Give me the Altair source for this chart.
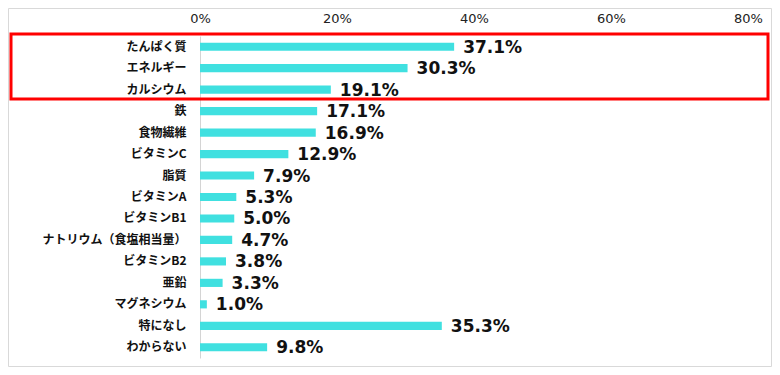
import altair as alt
import pandas as pd

categories = ["たんぱく質", "エネルギー", "カルシウム", "鉄", "食物繊維", "ビタミンC", "脂質",
              "ビタミンA", "ビタミンB1", "ナトリウム（食塩相当量）", "ビタミンB2", "亜鉛",
              "マグネシウム", "特になし", "わからない"]
values = [37.1, 30.3, 19.1, 17.1, 16.9, 12.9, 7.9, 5.3, 5.0, 4.7, 3.8, 3.3, 1.0, 35.3, 9.8]
x_ticks = [0, 20, 40, 60, 80]

df = pd.DataFrame({"cat": categories, "val": values,
                   "label": [f"{v:.1f}%" for v in values]})

W, H = 548, 322
font = "Noto Sans CJK JP"

x = alt.X("val:Q", scale=alt.Scale(domain=[0, 80], nice=False),
          axis=alt.Axis(orient="top", values=x_ticks, labelExpr="datum.value + '%'",
                        grid=False, domain=False, ticks=False, labelPadding=11,
                        labelFlush=False, labelOverlap=False,
                        labelFontSize=13, labelColor="#222222", labelFont="DejaVu Sans",
                        title=None))
y = alt.Y("cat:N", sort=categories, scale=alt.Scale(paddingInner=0.62, paddingOuter=0.31),
          axis=alt.Axis(title=None, ticks=False, domain=True, domainColor="#d4d4d4",
                        domainWidth=1, labelPadding=14, labelFontSize=12,
                        labelFontWeight="bold", labelColor="#111111", labelFont=font))

base = alt.Chart(df)

bars = base.mark_bar(color="#40E0E0").encode(x=x, y=y)

text = base.mark_text(align="left", baseline="middle", dx=9, dy=1, fontSize=17,
                      fontWeight="bold", font="DejaVu Sans", color="#111111").encode(
    x="val:Q", y=alt.Y("cat:N", sort=categories), text="label:N")

frame_df = pd.DataFrame({"k": [0]})
red = alt.Chart(frame_df).mark_rect(fill=None, stroke="#ff0000", strokeWidth=3).encode(
    x=alt.value(11 - 200), x2=alt.value(768 - 200),
    y=alt.value(34 - 36), y2=alt.value(99 - 36))
border = alt.Chart(frame_df).mark_rect(fill=None, stroke="#d9d9d9", strokeWidth=1).encode(
    x=alt.value(8.5 - 200), x2=alt.value(771.5 - 200),
    y=alt.value(8.5 - 36), y2=alt.value(366.5 - 36))

chart = alt.layer(bars, text, red, border).properties(
    width=W, height=H,
    autosize=alt.AutoSizeParams(type="none"),
    padding={"left": 192, "top": 28, "right": 24, "bottom": 9},
).configure_view(stroke=None)

chart.save("out.html", embed_options={"renderer": "svg", "actions": False})
